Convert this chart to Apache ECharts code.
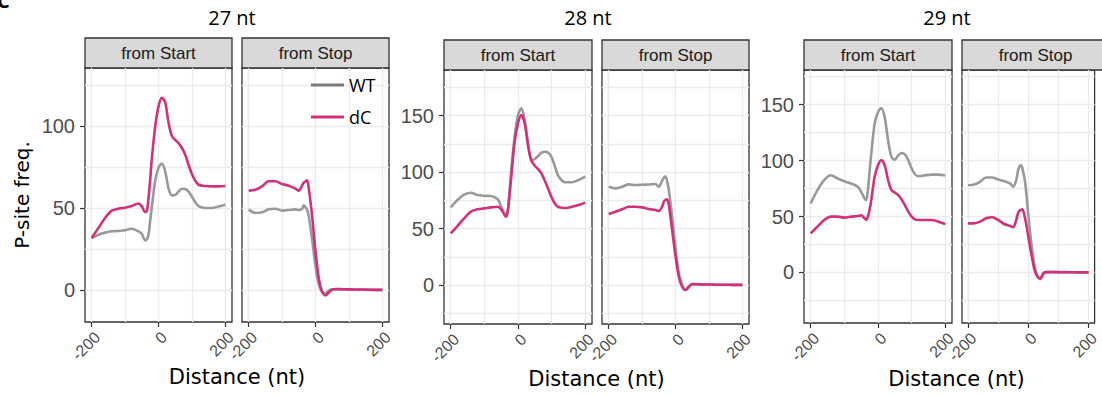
<!DOCTYPE html>
<html>
<head>
<meta charset="utf-8">
<script src="https://cdn.jsdelivr.net/npm/echarts@6/dist/echarts.min.js"></script>
<style>
  html, body { margin: 0; padding: 0; background: #fff; }
  #main { width: 1102px; height: 395px; }
</style>
</head>
<body>
<div id="main"></div>
<script>
// distance from start / stop codon (nt)
const dist = [-200, -180, -160, -140, -120, -100, -80, -60, -50, -40, -35, -30, -25, -20, -10, 0,
  10, 20, 30, 40, 50, 60, 70, 80, 90, 100, 110, 120, 140, 160, 180, 200];

// 27 nt
const wt27Start = [31.7, 33.7, 35, 35.8, 36, 36.4, 37.4, 35.8, 34.3, 30.3, 31, 33.5, 42, 50.5, 66.5, 74.5,
  77.2, 72.4, 62, 57.7, 58, 60, 61.8, 61.6, 60, 57, 53.5, 51.2, 50, 50, 51, 52];
const dc27Start = [31.7, 37.8, 43.9, 48.4, 49.6, 50.2, 51.2, 52.8, 51, 47.6, 48, 56, 67, 80, 99.5, 112,
  117.3, 114.5, 102, 94, 91.5, 89.6, 86.6, 82.5, 76.4, 70.7, 66.7, 64.2, 63.4, 63.2, 63.2, 63.4];
const wt27Stop = [49, 47, 47.4, 49.2, 49.6, 48.4, 48.8, 49.2, 48.8, 49.6, 51.6, 50.4, 49, 45, 30.7, 14.4,
  3.3, -1.2, -2, -0.2, 0.4, 0.4, 0.4, 0.3, 0.3, 0.3, 0.2, 0.2, 0.2, 0.1, 0.1, 0.1];
const dc27Stop = [60.6, 61.2, 63.2, 66.3, 66.3, 64.6, 63.6, 61.8, 60.6, 63.8, 65.5, 66.3, 66.9, 61.8, 44.9, 23.6,
  6.9, -1.2, -3.3, -1.4, 0.2, 0.6, 0.6, 0.5, 0.5, 0.4, 0.4, 0.3, 0.3, 0.2, 0.1, 0.1];

// 28 nt
const wt28Start = [68.7, 75.2, 80, 81.7, 79.6, 79, 78.8, 75.8, 69.3, 62.8, 61, 66, 84, 101.8, 131, 150.4,
  156.3, 146, 125.4, 110, 111.5, 114.2, 117.1, 118, 117.1, 113, 104.7, 96.5, 90.9, 90.9, 92.9, 95.9];
const dc28Start = [45.7, 52.2, 59, 64.9, 67, 67.8, 68.7, 69.3, 67, 62, 60.5, 66.4, 80, 95.9, 126.8, 143,
  150.5, 143, 123, 110, 105.5, 102.5, 98.5, 92, 85, 77.5, 72, 69, 68.1, 69.3, 70.8, 72.9];
const wt28Stop = [87, 85.5, 87, 89.1, 88.5, 88.8, 89, 89.4, 87, 92.3, 95, 95.9, 92, 84, 59.9, 32.4,
  10.3, 0, -4.4, -1.5, 0.9, 0.7, 0.6, 0.5, 0.5, 0.4, 0.4, 0.3, 0.3, 0.2, 0.1, 0.1];
const dc28Stop = [62.8, 64.9, 67, 69.3, 69.3, 68.7, 67.3, 66.4, 65.5, 69.3, 73.7, 75.2, 75.8, 71, 48.7, 25.7,
  7.4, -1.5, -4.4, -1.5, 0.9, 0.7, 0.6, 0.5, 0.5, 0.4, 0.4, 0.3, 0.3, 0.2, 0.1, 0.1];

// 29 nt
const wt29Start = [61.7, 73.6, 82.5, 86.9, 84, 81.6, 79.5, 76.6, 72.1, 66.2, 64.7, 73.6, 90, 106.2, 133, 143.3,
  147, 138.5, 118.1, 103.3, 100.9, 104.7, 106.8, 105.6, 100.3, 92.9, 87.8, 86, 86.9, 87.5, 87.5, 86.6];
const dc29Start = [35, 41, 46.9, 49.9, 49.9, 49, 49.9, 50.4, 51, 48.4, 46.9, 49.9, 56, 64.7, 85.5, 95.8,
  100.5, 95.8, 82.5, 73.6, 71.5, 69.1, 65.3, 60.2, 54.3, 49.9, 47.5, 46.9, 46.9, 46.9, 45.4, 43.3];
const wt29Stop = [78, 78.6, 81, 84.9, 84.9, 83.1, 81.6, 79.5, 76.6, 82.5, 90, 94.4, 95.8, 93.5, 79.5, 51.6,
  26.1, 6.8, -3, -6, -1.5, 0.3, 0.4, 0.4, 0.3, 0.3, 0.3, 0.3, 0.2, 0.2, 0.1, 0.1];
const dc29Stop = [43.9, 43.9, 45.4, 48.4, 49.3, 46.9, 43.3, 41.5, 40.4, 46.9, 52.2, 55.2, 55.8, 56.4, 47.5, 32,
  16.6, 3, -3.6, -5.3, -0.6, 0.3, 0.3, 0.3, 0.3, 0.2, 0.2, 0.2, 0.2, 0.1, 0.1, 0.1];

const xTicks = [-200, 0, 200];
const xGrid = [-200, -100, 0, 100, 200];
const yTicks27 = [0, 50, 100];
const yTicks28 = [0, 50, 100, 150];
const yTicks29 = [0, 50, 100, 150];
const yGrid27 = [0, 25, 50, 75, 100, 125];
const yGrid28 = [-25, 0, 25, 50, 75, 100, 125, 150, 175];
const yGrid29 = [-25, 0, 25, 50, 75, 100, 125, 150, 175];

const panels = ["27 nt", "28 nt", "29 nt"];
const facets = ["from Start", "from Stop"];

const WT_COLOR = "#999999";
const DC_COLOR = "#d3307b";
const LABEL_FONT = "'Liberation Sans', Arial, sans-serif";
const TITLE_FONT = "'Open Sans', sans-serif";

// layout of the six facets (px)
const layout = [
  { left: 85, top: 68, width: 147, height: 254, min: -19.5, max: 135.4, ticks: yTicks27, grid: yGrid27, wt: wt27Start, dc: dc27Start },
  { left: 242, top: 68, width: 147, height: 254, min: -19.5, max: 135.4, ticks: null, grid: yGrid27, wt: wt27Stop, dc: dc27Stop },
  { left: 444, top: 70, width: 148, height: 254, min: -34.5, max: 190.3, ticks: yTicks28, grid: yGrid28, wt: wt28Start, dc: dc28Start },
  { left: 602, top: 70, width: 147, height: 254, min: -34.5, max: 190.3, ticks: null, grid: yGrid28, wt: wt28Stop, dc: dc28Stop },
  { left: 804, top: 70, width: 148, height: 253, min: -45.2, max: 181, ticks: yTicks29, grid: yGrid29, wt: wt29Start, dc: dc29Start },
  { left: 962, top: 70, width: 147, height: 253, min: -45.2, max: 181, ticks: null, grid: yGrid29, wt: wt29Stop, dc: dc29Stop }
];

const grids = [], xAxes = [], yAxes = [], series = [], graphics = [];

layout.forEach((f, i) => {
  grids.push({
    left: f.left, top: f.top, width: f.width, height: f.height,
    show: true, backgroundColor: "#fff", borderColor: "#333", borderWidth: 1.3
  });
  // visible x axis (ticks + labels)
  xAxes.push({
    gridIndex: i, type: "value", min: -220, max: 220, position: "bottom",
    axisLine: { show: false, onZero: false },
    axisTick: { customValues: xTicks, length: 5, lineStyle: { color: "#333", width: 1.2 } },
    axisLabel: {
      customValues: xTicks, rotate: 45, align: "right", verticalAlign: "top", margin: 7,
      fontSize: 16, color: "#4d4d4d", fontFamily: LABEL_FONT
    },
    splitLine: { show: false }
  });
  // background gridlines
  xAxes.push({
    gridIndex: i, type: "value", min: -220, max: 220, position: "bottom",
    axisLine: { show: false, onZero: false },
    axisTick: { show: false, customValues: xGrid },
    axisLabel: { show: false },
    splitLine: { show: true, lineStyle: { color: "#ebebeb", width: 1.4 } }
  });
  yAxes.push({
    gridIndex: i, type: "value", min: f.min, max: f.max, position: "left",
    axisLine: { show: false, onZero: false },
    axisTick: f.ticks ? { customValues: f.ticks, length: 5, lineStyle: { color: "#333", width: 1.2 } } : { show: false },
    axisLabel: f.ticks ? { customValues: f.ticks, margin: 10, fontSize: 20, color: "#4d4d4d", fontFamily: LABEL_FONT } : { show: false },
    splitLine: { show: false }
  });
  yAxes.push({
    gridIndex: i, type: "value", min: f.min, max: f.max, position: "left",
    axisLine: { show: false, onZero: false },
    axisTick: { show: false, customValues: f.grid },
    axisLabel: { show: false },
    splitLine: { show: true, lineStyle: { color: "#ebebeb", width: 1.4 } }
  });

  [["WT", f.wt, WT_COLOR], ["dC", f.dc, DC_COLOR]].forEach(([name, vals, color]) => {
    series.push({
      name: name, type: "line", xAxisIndex: i * 2, yAxisIndex: i * 2,
      data: dist.map((d, k) => [d, vals[k]]),
      showSymbol: false, smooth: 0.3, silent: true,
      lineStyle: { width: 2.6, color: color }, itemStyle: { color: color }
    });
  });

  // facet strip
  const stripTop = f.top - 30;
  graphics.push({
    type: "rect", shape: { x: f.left, y: stripTop, width: f.width, height: 30 },
    style: { fill: "#d9d9d9", stroke: "#333", lineWidth: 1.3 }
  });
  graphics.push({
    type: "text", x: f.left + f.width / 2, y: stripTop + 15,
    style: { text: facets[i % 2], font: "17px " + LABEL_FONT, fill: "#1a1a1a", align: "center", verticalAlign: "middle" }
  });
});

// panel titles and axis titles
const titleX = [232, 588, 947];
const axisTitleY = [377, 379, 379];
panels.forEach((p, j) => {
  const a = layout[j * 2], b = layout[j * 2 + 1];
  graphics.push({
    type: "text", x: titleX[j], y: 17,
    style: { text: p, font: "20px " + TITLE_FONT, fill: "#000", align: "center", verticalAlign: "middle" }
  });
  graphics.push({
    type: "text", x: (a.left + b.left + b.width) / 2, y: axisTitleY[j],
    style: { text: "Distance (nt)", font: "21px 'DejaVu Sans', sans-serif", fill: "#000", align: "center", verticalAlign: "middle" }
  });
});
graphics.push({
  type: "text", x: 22, y: 195, rotation: Math.PI / 2,
  style: { text: "P-site freq.", font: "20px 'DejaVu Sans', sans-serif", fill: "#000", align: "center", verticalAlign: "middle" }
});
graphics.push({
  type: "text", x: -3, y: 10,
  style: { text: "C", font: "bold 20px " + TITLE_FONT, fill: "#000", align: "left", verticalAlign: "bottom" }
});

const chart = echarts.init(document.getElementById("main"), null, { renderer: "svg" });

const option = {
  animation: false,
  backgroundColor: "#fff",
  grid: grids,
  xAxis: xAxes,
  yAxis: yAxes,
  legend: {
    orient: "vertical", left: 306, top: 70,
    itemWidth: 33, itemHeight: 3, itemGap: 12,
    textStyle: { fontSize: 18, fontFamily: TITLE_FONT, color: "#000", lineHeight: 20 },
    data: [
      { name: "WT", icon: "rect", itemStyle: { color: "#7a7a7a" } },
      { name: "dC", icon: "rect", itemStyle: { color: DC_COLOR } }
    ]
  },
  graphic: graphics,
  series: series
};

chart.setOption(option);
</script>
</body>
</html>
